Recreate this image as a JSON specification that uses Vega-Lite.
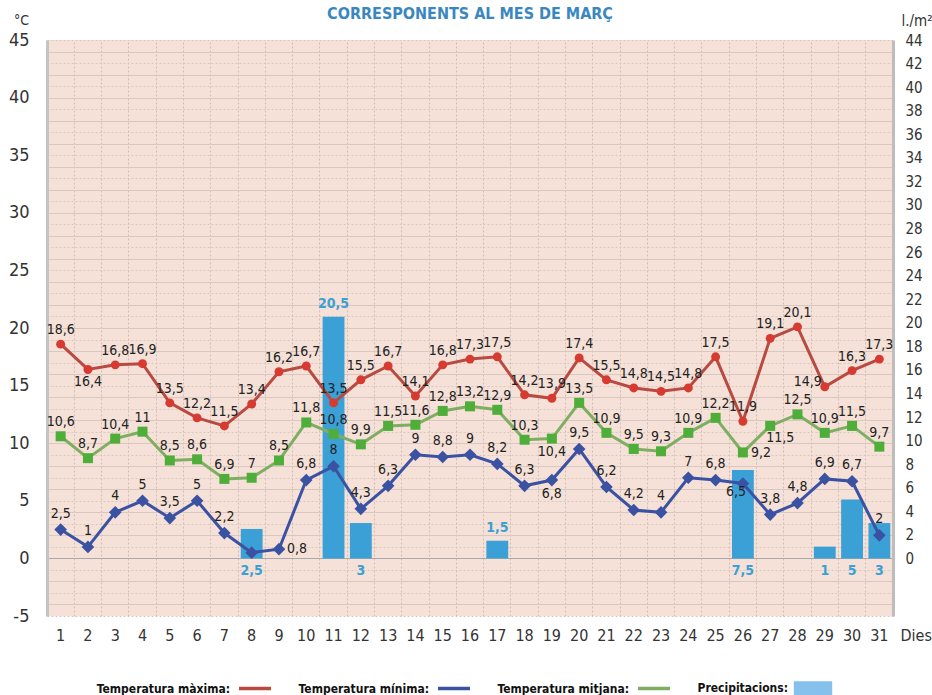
{
  "$schema": "https://vega.github.io/schema/vega-lite/v6.json",
  "width": 846,
  "height": 576,
  "autosize": {"type": "none"},
  "padding": {"left": 47, "top": 40, "right": 39, "bottom": 79},
  "background": "white",
  "title": {"text": "CORRESPONENTS AL MES DE MARÇ", "fontSize": 16, "fontWeight": "bold", "color": "#3a87c0", "anchor": "middle", "offset": 8, "dy": 17, "font": "Liberation Sans Narrow, DejaVu Sans Condensed, sans-serif"},
  "config": {
    "locale": {"number": {"decimal": ",", "thousands": ".", "grouping": [3], "currency": ["", " €"], "minus": "-"}},
    "view": {"fill": "#f5e1d7", "stroke": null},
    "font": "Liberation Sans Narrow, DejaVu Sans Condensed, sans-serif",
    "axis": {"labelOverlap": false},
    "text": {"font": "Liberation Sans Narrow, DejaVu Sans Condensed, sans-serif"}
  },
  "data": {"values": [
    {"day": 1, "max": 18.6, "mitjana": 10.6, "min": 2.5, "prec": null},
    {"day": 2, "max": 16.4, "mitjana": 8.7, "min": 1, "prec": null},
    {"day": 3, "max": 16.8, "mitjana": 10.4, "min": 4, "prec": null},
    {"day": 4, "max": 16.9, "mitjana": 11, "min": 5, "prec": null},
    {"day": 5, "max": 13.5, "mitjana": 8.5, "min": 3.5, "prec": null},
    {"day": 6, "max": 12.2, "mitjana": 8.6, "min": 5, "prec": null},
    {"day": 7, "max": 11.5, "mitjana": 6.9, "min": 2.2, "prec": null},
    {"day": 8, "max": 13.4, "mitjana": 7, "min": 0.5, "prec": 2.5},
    {"day": 9, "max": 16.2, "mitjana": 8.5, "min": 0.8, "prec": null},
    {"day": 10, "max": 16.7, "mitjana": 11.8, "min": 6.8, "prec": null},
    {"day": 11, "max": 13.5, "mitjana": 10.8, "min": 8, "prec": 20.5},
    {"day": 12, "max": 15.5, "mitjana": 9.9, "min": 4.3, "prec": 3},
    {"day": 13, "max": 16.7, "mitjana": 11.5, "min": 6.3, "prec": null},
    {"day": 14, "max": 14.1, "mitjana": 11.6, "min": 9, "prec": null},
    {"day": 15, "max": 16.8, "mitjana": 12.8, "min": 8.8, "prec": null},
    {"day": 16, "max": 17.3, "mitjana": 13.2, "min": 9, "prec": null},
    {"day": 17, "max": 17.5, "mitjana": 12.9, "min": 8.2, "prec": 1.5},
    {"day": 18, "max": 14.2, "mitjana": 10.3, "min": 6.3, "prec": null},
    {"day": 19, "max": 13.9, "mitjana": 10.4, "min": 6.8, "prec": null},
    {"day": 20, "max": 17.4, "mitjana": 13.5, "min": 9.5, "prec": null},
    {"day": 21, "max": 15.5, "mitjana": 10.9, "min": 6.2, "prec": null},
    {"day": 22, "max": 14.8, "mitjana": 9.5, "min": 4.2, "prec": null},
    {"day": 23, "max": 14.5, "mitjana": 9.3, "min": 4, "prec": null},
    {"day": 24, "max": 14.8, "mitjana": 10.9, "min": 7, "prec": null},
    {"day": 25, "max": 17.5, "mitjana": 12.2, "min": 6.8, "prec": null},
    {"day": 26, "max": 11.9, "mitjana": 9.2, "min": 6.5, "prec": 7.5},
    {"day": 27, "max": 19.1, "mitjana": 11.5, "min": 3.8, "prec": null},
    {"day": 28, "max": 20.1, "mitjana": 12.5, "min": 4.8, "prec": null},
    {"day": 29, "max": 14.9, "mitjana": 10.9, "min": 6.9, "prec": 1},
    {"day": 30, "max": 16.3, "mitjana": 11.5, "min": 6.7, "prec": 5},
    {"day": 31, "max": 17.3, "mitjana": 9.7, "min": 2, "prec": 3}
  ]},
  "layer": [
    {
      "layer": [
        {
          "transform": [{"filter": "datum.prec > 0"}],
          "mark": {"type": "bar", "color": "#3aa0d5", "width": {"band": 0.8}},
          "encoding": {
            "x": {"field": "day", "type": "ordinal",
              "scale": {"domain": [1,2,3,4,5,6,7,8,9,10,11,12,13,14,15,16,17,18,19,20,21,22,23,24,25,26,27,28,29,30,31], "paddingInner": 0, "paddingOuter": 0},
              "axis": {"orient": "bottom", "grid": false, "domain": false, "ticks": false, "tickSize": 0, "labelAngle": 0, "labelFontSize": 16, "labelPadding": 11, "labelColor": "#333", "labelOverlap": false, "title": "Dies", "titleX": 853, "titleY": 19, "titleAlign": "left", "titleBaseline": "middle", "titleFontSize": 16, "titleFontWeight": "normal", "titleColor": "#333"}},
            "y": {"field": "prec", "type": "quantitative",
              "scale": {"domain": [-4.889, 44], "nice": false},
              "axis": {"orient": "right", "values": [0,2,4,6,8,10,12,14,16,18,20,22,24,26,28,30,32,34,36,38,40,42,44], "tickCount": 100, "format": "d", "labelOverlap": false, "grid": false, "ticks": false, "tickSize": 0, "domainColor": "#bdbdbd", "domainWidth": 3, "labelFontSize": 15, "labelPadding": 12, "labelColor": "#333", "title": "l./m²", "titleAngle": 0, "titleX": 8, "titleY": -20, "titleAlign": "left", "titleBaseline": "middle", "titleFontSize": 15, "titleFontWeight": "normal", "titleColor": "#333"}},
            "y2": {"datum": 0}
          }
        },
        {
          "transform": [{"filter": "datum.day === 11 || datum.day === 17"}],
          "mark": {"type": "text", "dy": -13, "fontSize": 14, "fontWeight": "bold", "color": "#3aa0d5"},
          "encoding": {
            "x": {"field": "day", "type": "ordinal"},
            "y": {"field": "prec", "type": "quantitative"},
            "text": {"field": "prec", "type": "quantitative", "format": ".1~f"}
          }
        },
        {
          "transform": [{"filter": "datum.prec > 0 && datum.day !== 11 && datum.day !== 17"}],
          "mark": {"type": "text", "dy": 13, "fontSize": 14, "fontWeight": "bold", "color": "#3aa0d5"},
          "encoding": {
            "x": {"field": "day", "type": "ordinal"},
            "y": {"datum": 0},
            "text": {"field": "prec", "type": "quantitative", "format": ".1~f"}
          }
        }
      ]
    },
    {
      "layer": [
        {
          "transform": [{"fold": ["max", "min", "mitjana"], "as": ["serie", "valor"]}],
          "mark": {"type": "line", "strokeWidth": 3},
          "encoding": {
            "x": {"field": "day", "type": "ordinal",
              "axis": {"orient": "top", "grid": true, "gridDash": [2, 2], "gridColor": "#cfbdb3", "bandPosition": 0, "labels": false, "ticks": false, "domain": false, "title": null}},
            "y": {"field": "valor", "type": "quantitative",
              "scale": {"domain": [-5, 45], "nice": false},
              "axis": {"orient": "left", "values": [-5,-4,-3,-2,-1,0,1,2,3,4,5,6,7,8,9,10,11,12,13,14,15,16,17,18,19,20,21,22,23,24,25,26,27,28,29,30,31,32,33,34,35,36,37,38,39,40,41,42,43,44,45],
                "tickCount": 200,
                "format": "d",
                "labelExpr": "datum.value % 5 === 0 ? datum.label : ''",
                "labelOverlap": false,
                "grid": true,
                "gridColor": {"condition": {"test": "datum.value === 0", "value": "#a8a8a8"}, "value": "#d8c8bf"},
                "gridDash": {"condition": {"test": "datum.value % 2 === 0", "value": []}, "value": [2, 2]},
                "ticks": false, "tickSize": 0, "domainColor": "#c4c4c4", "domainWidth": 3,
                "labelFontSize": 18, "labelPadding": 18, "labelColor": "#333",
                "title": "°C", "titleAngle": 0, "titleX": -26, "titleY": -20, "titleAlign": "center", "titleBaseline": "middle", "titleFontSize": 14, "titleFontWeight": "normal", "titleColor": "#333"}},
            "color": {"field": "serie", "type": "nominal",
              "scale": {"domain": ["max", "min", "mitjana", "prec"], "range": ["#b84a42", "#3b52a3", "#7fae62", "#3aa0d5"]},
              "legend": {"orient": "none", "legendX": 202, "legendY": 642, "direction": "horizontal", "title": null,
                "labelExpr": "datum.value === 'max' ? 'Temperatura màxima:' : datum.value === 'min' ? 'Temperatura mínima:' : datum.value === 'mitjana' ? 'Temperatura mitjana:' : 'Precipitacions:'",
                "labelFontSize": 12, "labelFontWeight": "bold", "labelColor": "#111", "labelAlign": "right", "labelOffset": -31,
                "columnPadding": 20, "symbolSize": 1024, "symbolStrokeWidth": 3.5,
                "encode": {"symbols": {
                  "enter": {
                    "stroke": {"signal": "datum.value === 'max' ? '#cc3b33' : datum.value === 'min' ? '#3b86bf' : datum.value === 'mitjana' ? '#63ad3f' : '#85c1ec'"}
                  },
                  "update": {
                  "shape": {"signal": "datum.value === 'prec' ? 'M-1.2,-0.45H1.2V0.45H-1.2Z' : 'stroke'"},
                  "fill": {"signal": "datum.value === 'prec' ? '#85c1ec' : 'transparent'"},
                  "stroke": {"signal": "datum.value === 'max' ? '#cc3b33' : datum.value === 'min' ? '#3b86bf' : datum.value === 'mitjana' ? '#63ad3f' : '#85c1ec'"},
                  "strokeWidth": {"signal": "datum.value === 'prec' ? 0 : 3.5"},
                  "size": {"value": 1024}
                }}}}}
          }
        },
        {
          "mark": {"type": "point", "filled": true, "shape": "circle", "size": 80, "color": "#d63a30", "opacity": 1},
          "encoding": {"x": {"field": "day", "type": "ordinal"}, "y": {"field": "max", "type": "quantitative"}}
        },
        {
          "mark": {"type": "point", "filled": true, "shape": "square", "size": 100, "color": "#4fae3a", "opacity": 1},
          "encoding": {"x": {"field": "day", "type": "ordinal"}, "y": {"field": "mitjana", "type": "quantitative"}}
        },
        {
          "mark": {"type": "point", "filled": true, "shape": "diamond", "size": 160, "color": "#3b52a3", "opacity": 1},
          "encoding": {"x": {"field": "day", "type": "ordinal"}, "y": {"field": "min", "type": "quantitative"}}
        },
        {
          "transform": [{"filter": "datum.day !== 2 && datum.day !== 29"}],
          "mark": {"type": "text", "dy": -14, "fontSize": 14, "color": "#222"},
          "encoding": {"x": {"field": "day", "type": "ordinal"}, "y": {"field": "max", "type": "quantitative"}, "text": {"field": "max", "type": "quantitative", "format": ".1~f"}}
        },
        {
          "transform": [{"filter": "datum.day === 2"}],
          "mark": {"type": "text", "dy": 13, "fontSize": 14, "color": "#222"},
          "encoding": {"x": {"field": "day", "type": "ordinal"}, "y": {"field": "max", "type": "quantitative"}, "text": {"field": "max", "type": "quantitative", "format": ".1~f"}}
        },
        {
          "transform": [{"filter": "datum.day === 29"}],
          "mark": {"type": "text", "dy": -5, "dx": -3, "align": "right", "fontSize": 14, "color": "#222"},
          "encoding": {"x": {"field": "day", "type": "ordinal"}, "y": {"field": "max", "type": "quantitative"}, "text": {"field": "max", "type": "quantitative", "format": ".1~f"}}
        },
        {
          "transform": [{"filter": "datum.day !== 19 && datum.day !== 26 && datum.day !== 27"}],
          "mark": {"type": "text", "dy": -14, "fontSize": 14, "color": "#222"},
          "encoding": {"x": {"field": "day", "type": "ordinal"}, "y": {"field": "mitjana", "type": "quantitative"}, "text": {"field": "mitjana", "type": "quantitative", "format": ".1~f"}}
        },
        {
          "transform": [{"filter": "datum.day === 19"}],
          "mark": {"type": "text", "dy": 13, "fontSize": 14, "color": "#222"},
          "encoding": {"x": {"field": "day", "type": "ordinal"}, "y": {"field": "mitjana", "type": "quantitative"}, "text": {"field": "mitjana", "type": "quantitative", "format": ".1~f"}}
        },
        {
          "transform": [{"filter": "datum.day === 27"}],
          "mark": {"type": "text", "dy": 12, "dx": 10, "fontSize": 14, "color": "#222"},
          "encoding": {"x": {"field": "day", "type": "ordinal"}, "y": {"field": "mitjana", "type": "quantitative"}, "text": {"field": "mitjana", "type": "quantitative", "format": ".1~f"}}
        },
        {
          "transform": [{"filter": "datum.day === 26"}],
          "mark": {"type": "text", "dy": 1, "dx": 8, "align": "left", "fontSize": 14, "color": "#222"},
          "encoding": {"x": {"field": "day", "type": "ordinal"}, "y": {"field": "mitjana", "type": "quantitative"}, "text": {"field": "mitjana", "type": "quantitative", "format": ".1~f"}}
        },
        {
          "transform": [{"filter": "datum.day !== 8 && datum.day !== 9 && datum.day !== 19 && datum.day !== 26"}],
          "mark": {"type": "text", "dy": -16, "fontSize": 14, "color": "#222"},
          "encoding": {"x": {"field": "day", "type": "ordinal"}, "y": {"field": "min", "type": "quantitative"}, "text": {"field": "min", "type": "quantitative", "format": ".1~f"}}
        },
        {
          "transform": [{"filter": "datum.day === 19"}],
          "mark": {"type": "text", "dy": 14, "fontSize": 14, "color": "#222"},
          "encoding": {"x": {"field": "day", "type": "ordinal"}, "y": {"field": "min", "type": "quantitative"}, "text": {"field": "min", "type": "quantitative", "format": ".1~f"}}
        },
        {
          "transform": [{"filter": "datum.day === 26"}],
          "mark": {"type": "text", "dy": 8, "dx": -7, "fontSize": 14, "color": "#222"},
          "encoding": {"x": {"field": "day", "type": "ordinal"}, "y": {"field": "min", "type": "quantitative"}, "text": {"field": "min", "type": "quantitative", "format": ".1~f"}}
        },
        {
          "transform": [{"filter": "datum.day === 9"}],
          "mark": {"type": "text", "dx": 8, "align": "left", "fontSize": 14, "color": "#222"},
          "encoding": {"x": {"field": "day", "type": "ordinal"}, "y": {"field": "min", "type": "quantitative"}, "text": {"field": "min", "type": "quantitative", "format": ".1~f"}}
        }
      ]
    }
  ],
  "resolve": {"scale": {"y": "independent"}, "axis": {"x": "independent"}}
}
